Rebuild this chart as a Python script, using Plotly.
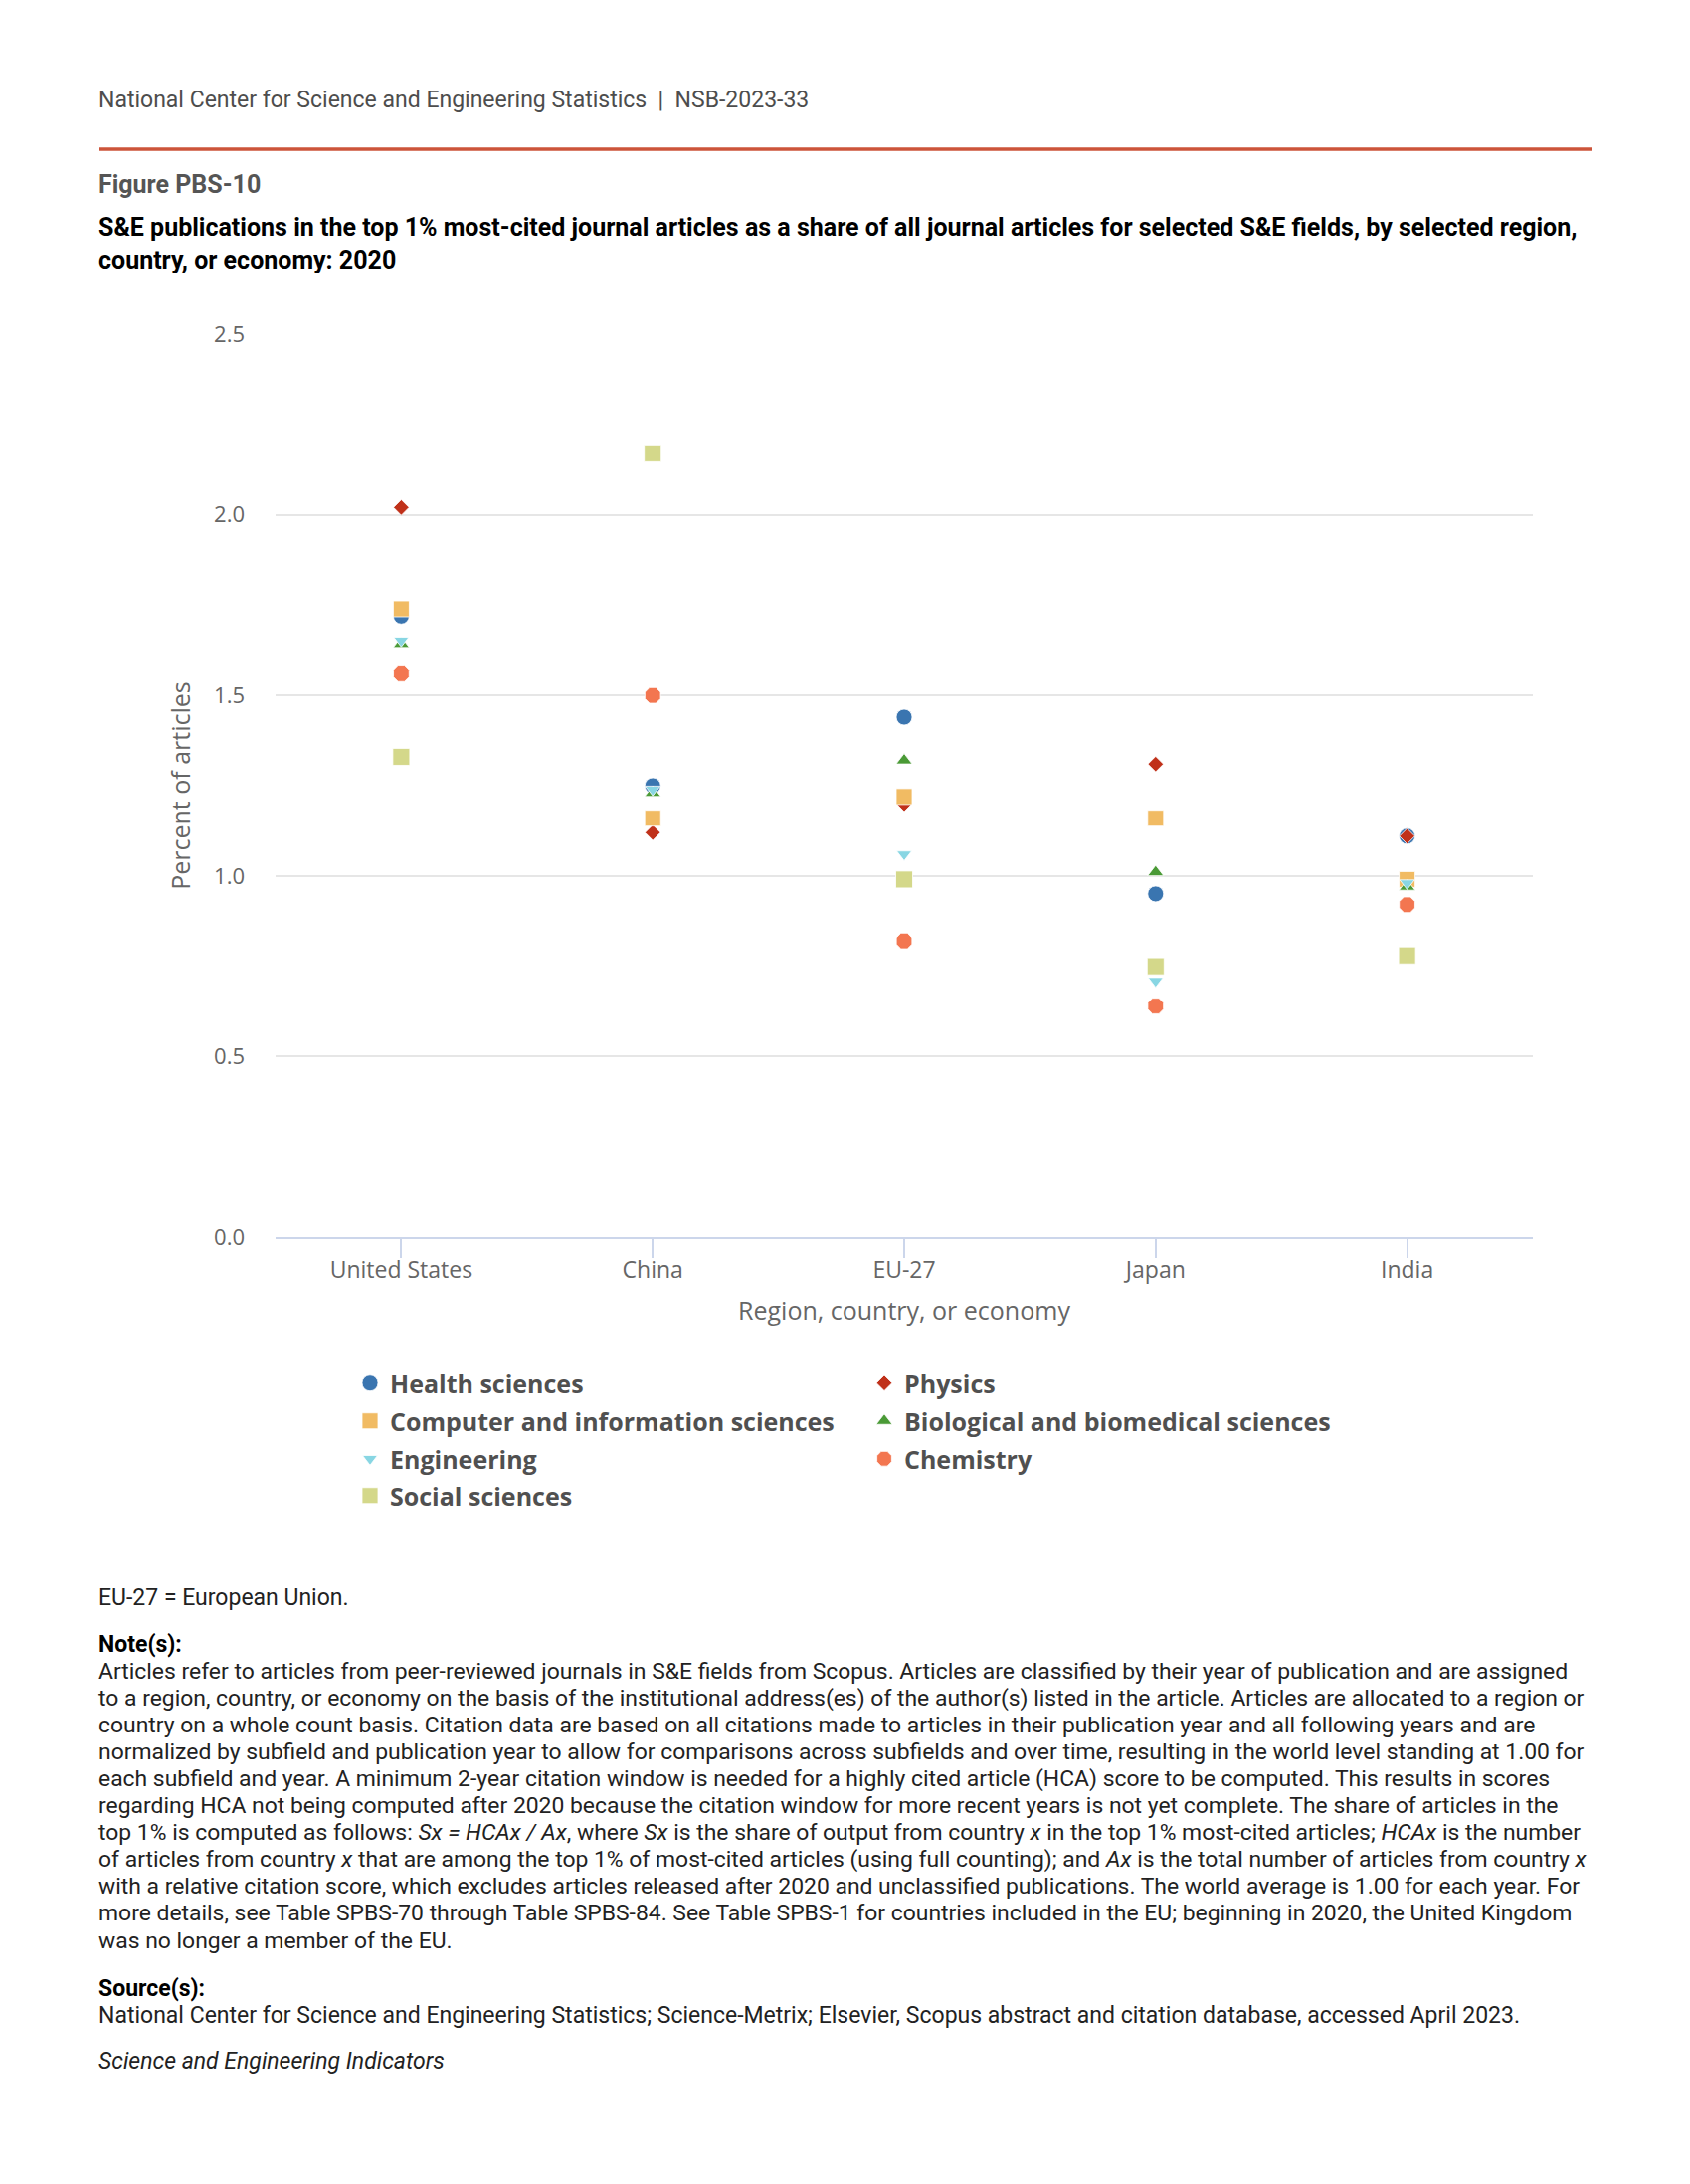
import plotly.graph_objects as go

# ---------------- data ----------------
categories = ["United States", "China", "EU-27", "Japan", "India"]

health_sciences = [1.72, 1.25, 1.44, 0.95, 1.11]
physics = [2.02, 1.12, 1.20, 1.31, 1.11]
computer_information = [1.74, 1.16, 1.22, 1.16, 0.99]
biological_biomedical = [1.64, 1.23, 1.32, 1.01, 0.97]
engineering = [1.65, 1.24, 1.06, 0.71, 0.98]
chemistry = [1.56, 1.50, 0.82, 0.64, 0.92]
social_sciences = [1.33, 2.17, 0.99, 0.75, 0.78]

y_ticks = [0.0, 0.5, 1.0, 1.5, 2.0, 2.5]

# ---------------- layout geometry (page pixels) ----------------
OFF = 8                      # default body margin of the html page
W_TOT, H_TOT = 1699 - 2 * OFF, 2196 - OFF
PLOT_LEFT, PLOT_RIGHT, PLOT_TOP, PLOT_BOTTOM = 277, 1541, 336, 1244   # page coords
L = PLOT_LEFT - OFF
T = PLOT_TOP - OFF
R = W_TOT - (PLOT_RIGHT - OFF)
B = H_TOT - (PLOT_BOTTOM - OFF)
PW = PLOT_RIGHT - PLOT_LEFT
PH = PLOT_BOTTOM - PLOT_TOP


def px_x(px):
    return (px - PLOT_LEFT) / PW


def px_y(py):
    return (PLOT_BOTTOM - py) / PH


series = [
    ("Health sciences", health_sciences, "circle", "#3a75b0", 16, "legend"),
    ("Physics", physics, "diamond", "#c0311a", 12, "legend"),
    ("Computer and information sciences", computer_information, "square", "#f1bb63", 16, "legend2"),
    ("Biological and biomedical sciences", biological_biomedical, "triangle-up", "#4a9a36", 14, "legend2"),
    ("Engineering", engineering, "triangle-down", "#88d6e3", 13, "legend3"),
    ("Chemistry", chemistry, "octagon", "#f37650", 17, "legend3"),
    ("Social sciences", social_sciences, "square", "#d4d88a", 17, "legend4"),
]

fig = go.Figure()
for name, vals, sym, col, size, lg in series:
    fig.add_trace(go.Scatter(
        x=categories, y=vals, mode="markers", name=name, legend=lg,
        marker=dict(symbol=sym, color=col, size=size,
                    line=dict(width=1, color="rgba(255,255,255,0.8)")),
    ))

CHART_FONT = "Open Sans, Arial, sans-serif"
TEXT_FONT = "Roboto, Arial, sans-serif"

legend_common = dict(
    orientation="h", xanchor="left", yanchor="middle",
    x=px_x(352), entrywidth=472, entrywidthmode="pixels",
    itemsizing="trace", bgcolor="rgba(0,0,0,0)",
    font=dict(family=CHART_FONT, size=25, color="#505050", weight="bold"),
    traceorder="normal",
)
row_centers = [1391, 1429, 1467, 1504]

fig.update_layout(
    width=W_TOT, height=H_TOT,
    margin=dict(l=L, r=R, t=T, b=B, autoexpand=False),
    paper_bgcolor="white", plot_bgcolor="white",
    font=dict(family=CHART_FONT, color="#666666"),
    legend=dict(legend_common, y=px_y(row_centers[0])),
    legend2=dict(legend_common, y=px_y(row_centers[1])),
    legend3=dict(legend_common, y=px_y(row_centers[2])),
    legend4=dict(legend_common, y=px_y(row_centers[3])),
    showlegend=True,
    xaxis=dict(
        type="category", range=[-0.5, 4.5],
        showgrid=False, showline=True, linecolor="#ccd6eb", linewidth=2,
        ticks="outside", ticklen=19, tickwidth=2, tickcolor="#ccd6eb",
        tickfont=dict(family=CHART_FONT, size=23, color="#666666"),
        ticklabelstandoff=-8,
        title=dict(text="Region, country, or economy",
                   font=dict(family=CHART_FONT, size=25, color="#666666"),
                   standoff=19),
        zeroline=False, fixedrange=True,
    ),
    yaxis=dict(
        range=[0, 2.5], tickvals=y_ticks, tickformat=".1f",
        showgrid=True, gridcolor="#e6e6e6", gridwidth=1.5,
        zeroline=False, showline=False, ticks="",
        tickfont=dict(family=CHART_FONT, size=22, color="#666666"),
        ticklabelstandoff=30,
        title=dict(text="Percent of articles",
                   font=dict(family=CHART_FONT, size=25, color="#666666"),
                   standoff=16),
        fixedrange=True,
    ),
)

# ---------------- header / footer text ----------------
annotations = []


def add_text(text, py, size=23, color="#222222", weight="normal", px=97):
    annotations.append(dict(
        text=text, xref="paper", yref="paper", x=px_x(px), y=px_y(py),
        xanchor="left", yanchor="middle", showarrow=False, align="left",
        font=dict(family=TEXT_FONT, size=size, color=color, weight=weight),
    ))


add_text("National Center for Science and Engineering Statistics  |  NSB-2023-33", 101, size=23, color="#4d4d4d")
add_text("Figure PBS-10", 186, size=25, color="#555555", weight="bold")
add_text("S&E publications in the top 1% most-cited journal articles as a share of all journal articles for selected S&E fields, by selected region,",
         229, size=25, color="#000000", weight="bold")
add_text("country, or economy: 2020", 262, size=25, color="#000000", weight="bold")

add_text("EU-27 = European Union.", 1606)
add_text("Note(s):", 1653, weight="bold", color="#000000")

note_lines = [
    "Articles refer to articles from peer-reviewed journals in S&E fields from Scopus. Articles are classified by their year of publication and are assigned",
    "to a region, country, or economy on the basis of the institutional address(es) of the author(s) listed in the article. Articles are allocated to a region or",
    "country on a whole count basis. Citation data are based on all citations made to articles in their publication year and all following years and are",
    "normalized by subfield and publication year to allow for comparisons across subfields and over time, resulting in the world level standing at 1.00 for",
    "each subfield and year. A minimum 2-year citation window is needed for a highly cited article (HCA) score to be computed. This results in scores",
    "regarding HCA not being computed after 2020 because the citation window for more recent years is not yet complete. The share of articles in the",
    "top 1% is computed as follows: <i>Sx = HCAx / Ax</i>, where <i>Sx</i> is the share of output from country <i>x</i> in the top 1% most-cited articles; <i>HCAx</i> is the number",
    "of articles from country <i>x</i> that are among the top 1% of most-cited articles (using full counting); and <i>Ax</i> is the total number of articles from country <i>x</i>",
    "with a relative citation score, which excludes articles released after 2020 and unclassified publications. The world average is 1.00 for each year. For",
    "more details, see Table SPBS-70 through Table SPBS-84. See Table SPBS-1 for countries included in the EU; beginning in 2020, the United Kingdom",
    "was no longer a member of the EU.",
]
for i, line in enumerate(note_lines):
    add_text(line, 1680 + i * 27.1, size=22.9)

add_text("Source(s):", 1999, weight="bold", color="#000000")
add_text("National Center for Science and Engineering Statistics; Science-Metrix; Elsevier, Scopus abstract and citation database, accessed April 2023.", 2026)
add_text("<i>Science and Engineering Indicators</i>", 2072)

fig.update_layout(annotations=annotations)

# red rule under the header
fig.add_shape(type="line", xref="paper", yref="paper",
              x0=px_x(100), x1=px_x(1600), y0=px_y(150), y1=px_y(150),
              line=dict(color="#cc543a", width=3.5))

fig.write_html("out.html")
